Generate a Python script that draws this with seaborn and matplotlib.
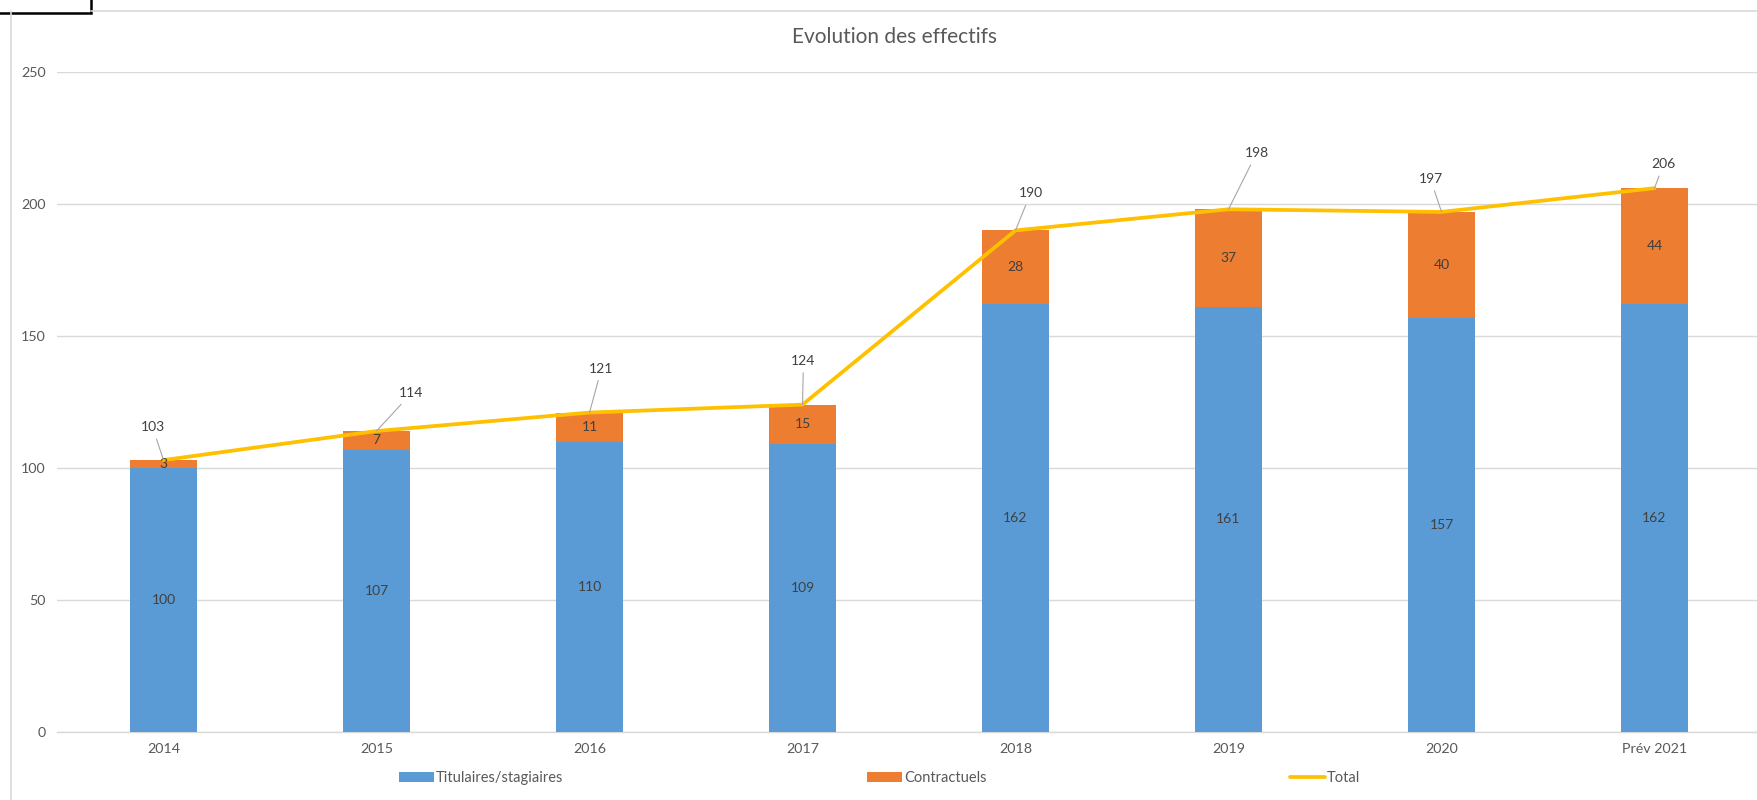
import numpy as np
import pandas as pd
import matplotlib
matplotlib.use("Agg")
import matplotlib.pyplot as plt
from matplotlib.lines import Line2D
from matplotlib.patches import Rectangle, Patch
import seaborn as sns

# Staff headcount by year
annees = ["2014", "2015", "2016", "2017", "2018", "2019", "2020", "Prév 2021"]
titulaires = [100, 107, 110, 109, 162, 161, 157, 162]
contractuels = [3, 7, 11, 15, 28, 37, 40, 44]
total = [103, 114, 121, 124, 190, 198, 197, 206]

# Offsets (pixels) of the total labels relative to their points
total_offsets = [(-11, 33), (35, 38), (12, 44), (1, 44), (15, 37), (28, 56), (-11, 33), (9, 24)]

BLUE = "#5B9BD5"
ORANGE = "#ED7D31"
YELLOW = "#FFC000"
GRID = "#D9D9D9"
TXT = "#595959"
LBL = "#404040"

sns.set_theme(style="white")
plt.rcParams["font.family"] = ["Lato", "DejaVu Sans"]

df = pd.DataFrame({"annee": annees, "titulaires": titulaires,
                   "contractuels": contractuels, "total": total})

W, H = 1758, 800
fig = plt.figure(figsize=(W / 100, H / 100), dpi=100)
ax = fig.add_axes([57 / W, 68 / H, 1704 / W, 660 / H])

bw = 0.315
# stacked bars: full height in orange, titulaires drawn over it in blue
sns.barplot(data=df, x="annee", y="total", color=ORANGE, width=bw,
            saturation=1, ax=ax, zorder=2, edgecolor="none")
sns.barplot(data=df, x="annee", y="titulaires", color=BLUE, width=bw,
            saturation=1, ax=ax, zorder=3, edgecolor="none")

xs = np.arange(len(annees))
sns.lineplot(x=xs, y=total, color=YELLOW, linewidth=2.7, ax=ax, zorder=5)

# segment labels
for i in range(len(annees)):
    ax.text(i, titulaires[i] / 2, str(titulaires[i]), ha="center", va="center",
            fontsize=10, color=LBL, zorder=6)
    ax.text(i, titulaires[i] + contractuels[i] / 2, str(contractuels[i]),
            ha="center", va="center", fontsize=10, color=LBL, zorder=6)
    dx, dy = total_offsets[i]
    ax.annotate(str(total[i]), xy=(i, total[i]), xytext=(dx, dy),
                textcoords="offset pixels", ha="center", va="center",
                fontsize=10, color=LBL, zorder=7,
                arrowprops=dict(arrowstyle="-", color="#A6A6A6", lw=0.8,
                                shrinkA=2, shrinkB=0))

ax.set_xlim(-0.5, len(annees) - 0.5)
ax.set_ylim(0, 250)
ax.set_yticks([0, 50, 100, 150, 200, 250])
ax.yaxis.grid(True, color=GRID, linewidth=1)
ax.set_axisbelow(True)
for s in ["top", "right", "left"]:
    ax.spines[s].set_visible(False)
ax.spines["bottom"].set_color(GRID)
ax.spines["bottom"].set_linewidth(1)
ax.tick_params(axis="both", length=0, labelsize=10.3, labelcolor=TXT)
ax.tick_params(axis="x", pad=8)
ax.tick_params(axis="y", pad=8)
ax.set_xlabel("")
ax.set_ylabel("")
if ax.get_legend():
    ax.get_legend().remove()

fig.text(895 / W, 1 - 37 / H, "Evolution des effectifs", ha="center",
         va="center", fontsize=15, color=TXT)

# legend entries spread along the bottom
entries = [
    (Patch(facecolor=BLUE, edgecolor="none"), "Titulaires/stagiaires", 399),
    (Patch(facecolor=ORANGE, edgecolor="none"), "Contractuels", 867),
    (Line2D([0], [0], color=YELLOW, lw=2.7), "Total", 1290),
]
for handle, label, xpix in entries:
    fig.legend([handle], [label], loc="center left",
               bbox_to_anchor=(xpix / W, 1 - 778 / H), frameon=False,
               fontsize=10.5, labelcolor=TXT, handlelength=2.4,
               handleheight=0.75, handletextpad=0.15, borderpad=0,
               borderaxespad=0)

# chart area border lines and the cell box above it
fig.add_artist(Line2D([11 / W, 11 / W], [0, 1 - 11 / H],
                      transform=fig.transFigure, color=GRID, lw=1.2))
fig.add_artist(Line2D([91 / W, 1], [1 - 11 / H, 1 - 11 / H],
                      transform=fig.transFigure, color=GRID, lw=1.2))
fig.add_artist(Rectangle((-0.01, 1 - 13 / H), 91 / W + 0.01, 0.05,
                         transform=fig.transFigure, facecolor="white",
                         edgecolor="black", lw=1.8))

fig.savefig("out.png", dpi=100)
